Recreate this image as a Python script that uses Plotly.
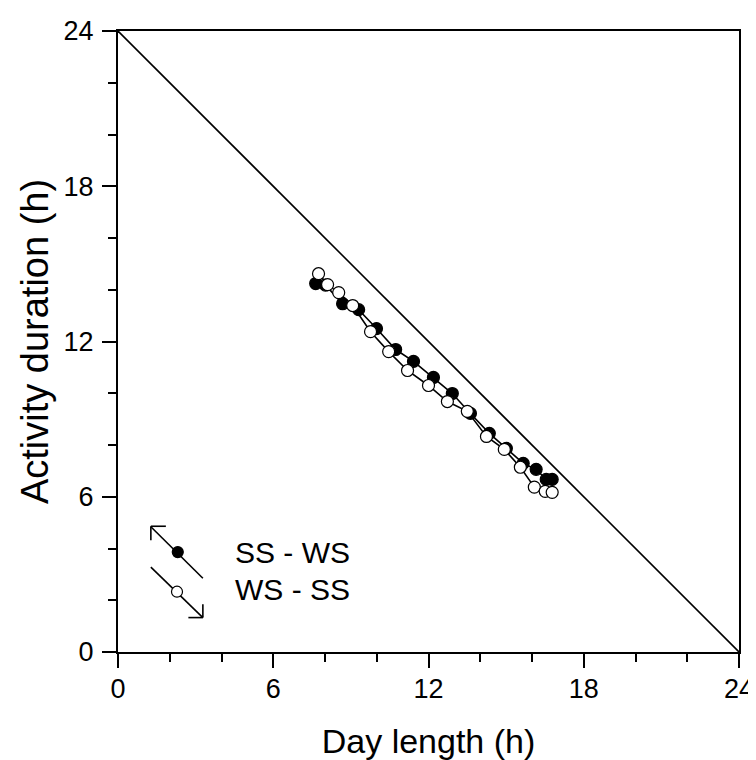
import plotly.graph_objects as go

# ---- data ----
day_ss_ws = [7.64, 8.02, 8.68, 9.30, 9.99, 10.73, 11.42, 12.19, 12.92, 13.62, 14.35, 15.01, 15.66, 16.16, 16.55, 16.78]
act_ss_ws = [14.24, 14.18, 13.46, 13.23, 12.50, 11.69, 11.23, 10.61, 9.99, 9.22, 8.45, 7.87, 7.29, 7.06, 6.67, 6.67]
day_ws_ss = [7.75, 8.10, 8.53, 9.07, 9.76, 10.46, 11.19, 12.00, 12.73, 13.50, 14.24, 14.93, 15.55, 16.09, 16.51, 16.78]
act_ws_ss = [14.62, 14.20, 13.89, 13.39, 12.38, 11.61, 10.88, 10.30, 9.68, 9.30, 8.33, 7.83, 7.14, 6.37, 6.21, 6.17]
diag_x = [0, 24]
diag_y = [24, 0]
tick_vals = [0, 6, 12, 18, 24]
legend_labels = ["SS - WS", "WS - SS"]

FONT = "Liberation Sans, Arial, sans-serif"

fig = go.Figure()
fig.add_trace(go.Scatter(x=diag_x, y=diag_y, mode="lines",
                         line=dict(color="black", width=1.6), showlegend=False))
fig.add_trace(go.Scatter(x=day_ss_ws, y=act_ss_ws, mode="lines+markers",
                         line=dict(color="black", width=1.6),
                         marker=dict(symbol="circle", size=12, color="black",
                                     line=dict(color="black", width=1.2)),
                         showlegend=False))
fig.add_trace(go.Scatter(x=day_ws_ss, y=act_ws_ss, mode="lines+markers",
                         line=dict(color="black", width=1.6),
                         marker=dict(symbol="circle", size=12, color="white",
                                     line=dict(color="black", width=1.2)),
                         showlegend=False))

# ---- hand-drawn legend (decoration) ----
ln = dict(color="black", width=1.6)
shapes = [
    dict(type="line", xref="x", yref="y", x0=1.27, y0=4.84, x1=3.28, y1=2.85, line=ln),
    dict(type="line", xref="x", yref="y", x0=1.27, y0=4.86, x1=1.85, y1=4.86, line=ln),
    dict(type="line", xref="x", yref="y", x0=1.27, y0=4.86, x1=1.27, y1=4.32, line=ln),
    dict(type="line", xref="x", yref="y", x0=1.27, y0=3.28, x1=3.28, y1=1.33, line=ln),
    dict(type="line", xref="x", yref="y", x0=3.28, y0=1.33, x1=2.72, y1=1.33, line=ln),
    dict(type="line", xref="x", yref="y", x0=3.28, y0=1.33, x1=3.28, y1=1.85, line=ln),
    dict(type="circle", xref="x", yref="y", xsizemode="pixel", ysizemode="pixel",
         xanchor=2.31, yanchor=3.86, x0=-5.5, x1=5.5, y0=-5.5, y1=5.5,
         fillcolor="black", line=dict(color="black", width=1.2)),
    dict(type="circle", xref="x", yref="y", xsizemode="pixel", ysizemode="pixel",
         xanchor=2.28, yanchor=2.33, x0=-5.5, x1=5.5, y0=-5.5, y1=5.5,
         fillcolor="white", line=dict(color="black", width=1.2)),
]
annotations = [
    dict(x=4.44, y=3.84, xref="x", yref="y", text=legend_labels[0], showarrow=False,
         xanchor="left", yanchor="middle", font=dict(family=FONT, size=30, color="black")),
    dict(x=4.44, y=2.40, xref="x", yref="y", text=legend_labels[1], showarrow=False,
         xanchor="left", yanchor="middle", font=dict(family=FONT, size=30, color="black")),
]

axis_common = dict(
    range=[0, 24], tickvals=tick_vals, ticktext=[str(v) for v in tick_vals],
    ticks="outside", ticklen=14, tickwidth=2, tickcolor="black",
    showline=True, linecolor="black", linewidth=2, mirror=True,
    showgrid=False, zeroline=False, automargin=False,
    tickfont=dict(family=FONT, size=27, color="black"),
    minor=dict(dtick=2, tick0=0, ticks="outside", ticklen=8, tickwidth=2,
               tickcolor="black", showgrid=False),
)

# page has an ~8px body offset, so the figure is sized to fit the 756x760 window
fig.update_layout(
    width=748, height=752,
    margin=dict(l=110, r=17, t=23, b=108),
    paper_bgcolor="white", plot_bgcolor="white",
    shapes=shapes, annotations=annotations,
    xaxis=dict(**axis_common, ticklabelstandoff=-2,
               title=dict(text="Day length (h)", standoff=33,
                          font=dict(family=FONT, size=34, color="black"))),
    yaxis=dict(**axis_common, ticklabelstandoff=3,
               title=dict(text="Activity duration (h)", standoff=3,
                          font=dict(family=FONT, size=38, color="black"))),
)

fig.write_html("out.html")
